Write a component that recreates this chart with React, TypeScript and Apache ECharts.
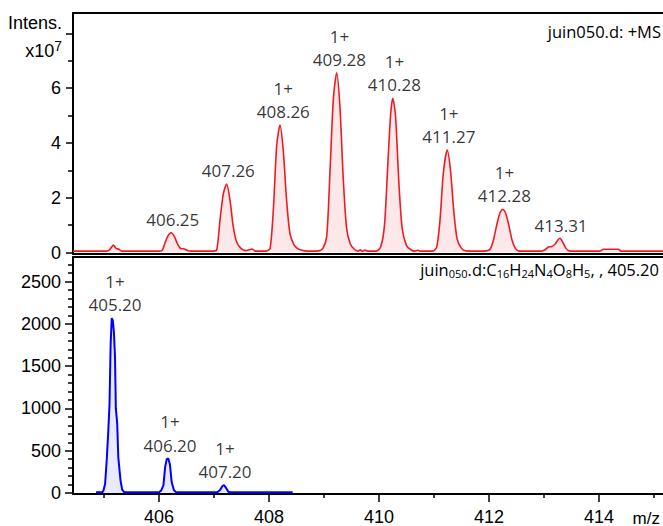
import { useEffect, useRef } from 'react';
import * as echarts from 'echarts';

// ---- data ----
const xMin = 404.436;
const xMax = 415.164;
const xMajorTicks = [406, 408, 410, 412, 414];
const xMinorTicks = [405, 407, 409, 411, 413, 415];

const topYMajorTicks = [0, 2, 4, 6, 8];
const topYLabels = [0, 2, 4, 6];
const topYMinorTicks = [1, 3, 5, 7];
const bottomYMajorTicks = [0, 500, 1000, 1500, 2000, 2500];
const bottomYMinorTicks = [100, 200, 300, 400, 600, 700, 800, 900, 1100, 1200, 1300, 1400, 1600, 1700, 1800, 1900, 2100, 2200, 2300, 2400, 2600, 2700];

// +MS profile, intensity in units of 1e7
const msProfile: [number, number][] = [
  [404.436, 0.05], [405.05, 0.05], [405.1, 0.1], [405.17, 0.27], [405.22, 0.15], [405.27, 0.12], [405.32, 0.05],
  [406.0, 0.05], [406.06, 0.08], [406.1, 0.3], [406.16, 0.6], [406.22, 0.72], [406.28, 0.58], [406.34, 0.3], [406.4, 0.14], [406.46, 0.13], [406.52, 0.07], [406.58, 0.05],
  [406.98, 0.05], [407.05, 0.1], [407.11, 1.2], [407.17, 2.15], [407.23, 2.5], [407.29, 1.92], [407.35, 0.94], [407.41, 0.39], [407.49, 0.15], [407.58, 0.07], [407.64, 0.1], [407.69, 0.13], [407.75, 0.05],
  [407.95, 0.05], [408.02, 0.15], [408.08, 1.6], [408.14, 3.9], [408.2, 4.65], [408.26, 3.7], [408.32, 1.9], [408.38, 0.7], [408.45, 0.3], [408.52, 0.14], [408.6, 0.08], [408.68, 0.05],
  [408.9, 0.06], [408.98, 0.15], [409.05, 0.6], [409.11, 3.0], [409.17, 5.6], [409.23, 6.56], [409.29, 5.3], [409.35, 2.7], [409.41, 0.9], [409.48, 0.3], [409.56, 0.1], [409.62, 0.05], [409.66, 0.1], [409.7, 0.04], [409.74, 0.09], [409.79, 0.05],
  [409.95, 0.05], [410.03, 0.2], [410.1, 1.0], [410.16, 3.2], [410.21, 5.0], [410.25, 5.63], [410.3, 5.0], [410.36, 2.6], [410.42, 0.9], [410.5, 0.25], [410.58, 0.1], [410.65, 0.05], [410.7, 0.08], [410.76, 0.05],
  [410.98, 0.05], [411.05, 0.2], [411.11, 1.2], [411.17, 2.9], [411.24, 3.74], [411.3, 3.0], [411.36, 1.5], [411.42, 0.5], [411.5, 0.15], [411.58, 0.06], [411.8, 0.05],
  [411.95, 0.06], [412.02, 0.12], [412.08, 0.45], [412.14, 1.0], [412.2, 1.45], [412.25, 1.58], [412.3, 1.45], [412.36, 1.0], [412.42, 0.45], [412.48, 0.15], [412.55, 0.05],
  [412.95, 0.05], [413.02, 0.1], [413.08, 0.2], [413.14, 0.22], [413.2, 0.3], [413.25, 0.45], [413.29, 0.52], [413.34, 0.38], [413.4, 0.15], [413.46, 0.06], [413.55, 0.05],
  [414.02, 0.05], [414.08, 0.12], [414.35, 0.12], [414.4, 0.05], [415.164, 0.05],
];

// extracted ion profile (counts)
const eicProfile: [number, number][] = [
  [404.855, 8], [404.97, 8], [404.99, 30], [405.02, 110], [405.05, 400], [405.075, 700], [405.1, 1050], [405.12, 1750], [405.14, 2069], [405.16, 2040], [405.18, 1900], [405.2, 1600], [405.215, 1000], [405.24, 820], [405.26, 420], [405.3, 150], [405.33, 40], [405.37, 8],
  [406.0, 8], [406.04, 30], [406.08, 90], [406.11, 300], [406.14, 400], [406.17, 409], [406.2, 330], [406.23, 130], [406.27, 35], [406.31, 8],
  [407.06, 8], [407.11, 35], [407.15, 80], [407.18, 94], [407.22, 60], [407.26, 15], [407.3, 8], [408.43, 8],
];

const msPeakMz = [406.25, 407.26, 408.26, 409.28, 410.28, 411.27, 412.28, 413.31];
const msPeakIntensity = [0.72, 2.5, 4.65, 6.56, 5.63, 3.74, 1.58, 0.52];
const msPeakCharge = ['', '', '1+', '1+', '1+', '1+', '1+', ''];

const eicPeakMz = [405.2, 406.2, 407.2];
const eicPeakIntensity = [2069, 409, 94];
const eicPeakCharge = ['1+', '1+', '1+'];

// ---- styling ----
const axisFont = "'Liberation Sans', Arial, sans-serif";
const labelFont = "'Open Sans', 'Noto Sans', sans-serif";
const black = '#000';

function peakLabels(mz: number[], inten: number[], charge: string[]) {
  return mz.map((m, i) => ({ value: [m, inten[i]], charge: charge[i], text: m.toFixed(2) }));
}

const labelSeriesBase = {
  type: 'scatter',
  symbolSize: 1,
  itemStyle: { color: 'rgba(0,0,0,0)' },
  silent: true,
  z: 5,
  label: {
    show: true,
    position: 'top',
    distance: 1,
    fontFamily: labelFont,
    fontSize: 17,
    lineHeight: 23.5,
    color: black,
    formatter: (p: any) => (p.data.charge ? `${p.data.charge}\n${p.data.text}` : p.data.text),
  },
};

const lineAxis = { show: true, onZero: false, lineStyle: { color: black, width: 2 } };
const plainNum = (v: number) => String(v);

export default function App() {
  const ref = useRef<HTMLDivElement>(null);
  useEffect(() => {
    const chart = echarts.init(ref.current!, null, { renderer: 'svg' });
    const option: any = {
      animation: false,
      backgroundColor: '#fff',
      grid: [
        { left: 73, top: 13, width: 590, height: 241 },
        { left: 73, top: 257, width: 590, height: 238 },
      ],
      xAxis: [
        { gridIndex: 0, type: 'value', min: xMin, max: xMax, position: 'bottom', axisLine: lineAxis, axisTick: { show: false }, axisLabel: { show: false }, splitLine: { show: false } },
        { gridIndex: 0, type: 'value', min: xMin, max: xMax, position: 'top', axisLine: lineAxis, axisTick: { show: false }, axisLabel: { show: false }, splitLine: { show: false } },
        {
          gridIndex: 1, type: 'value', min: xMin, max: xMax, position: 'bottom', axisLine: lineAxis,
          axisTick: { show: true, length: 8, customValues: xMajorTicks, lineStyle: { color: black, width: 1.5 } },
          axisLabel: { show: true, customValues: xMajorTicks, margin: 14, fontFamily: axisFont, fontSize: 18, color: black, formatter: plainNum },
          splitLine: { show: false },
        },
        {
          gridIndex: 1, type: 'value', min: xMin, max: xMax, position: 'bottom', axisLine: { show: false },
          axisTick: { show: true, length: 5, customValues: xMinorTicks, lineStyle: { color: black, width: 1.5 } },
          axisLabel: { show: false }, splitLine: { show: false },
        },
        { gridIndex: 1, type: 'value', min: xMin, max: xMax, position: 'top', axisLine: lineAxis, axisTick: { show: false }, axisLabel: { show: false }, splitLine: { show: false } },
      ],
      yAxis: [
        {
          gridIndex: 0, type: 'value', min: -0.0547, max: 8.741, position: 'left', axisLine: lineAxis,
          axisTick: { show: true, length: 7, customValues: topYMajorTicks, lineStyle: { color: black, width: 1.5 } },
          axisLabel: { show: true, customValues: topYLabels, margin: 12, fontFamily: axisFont, fontSize: 18, color: black, formatter: plainNum },
          splitLine: { show: false },
        },
        {
          gridIndex: 0, type: 'value', min: -0.0547, max: 8.741, position: 'left', axisLine: { show: false },
          axisTick: { show: true, length: 5, customValues: topYMinorTicks, lineStyle: { color: black, width: 1.5 } },
          axisLabel: { show: false }, splitLine: { show: false },
        },
        {
          gridIndex: 1, type: 'value', min: -11.8, max: 2791, position: 'left', axisLine: lineAxis,
          axisTick: { show: true, length: 8, customValues: bottomYMajorTicks, lineStyle: { color: black, width: 1.5 } },
          axisLabel: { show: true, customValues: bottomYMajorTicks, margin: 12, fontFamily: axisFont, fontSize: 18, color: black, formatter: plainNum },
          splitLine: { show: false },
        },
        {
          gridIndex: 1, type: 'value', min: -11.8, max: 2791, position: 'left', axisLine: { show: false },
          axisTick: { show: true, length: 5, customValues: bottomYMinorTicks, lineStyle: { color: black, width: 1.5 } },
          axisLabel: { show: false }, splitLine: { show: false },
        },
      ],
      series: [
        {
          type: 'line', xAxisIndex: 0, yAxisIndex: 0, data: msProfile, symbol: 'none', smooth: 0.25,
          lineStyle: { color: '#ee1b22', width: 1.6 }, areaStyle: { color: 'rgba(240,40,50,0.15)' }, z: 3,
        },
        {
          type: 'line', xAxisIndex: 2, yAxisIndex: 2, data: eicProfile, symbol: 'none',
          lineStyle: { color: '#0000ff', width: 2 }, areaStyle: { color: 'rgba(70,70,255,0.17)' }, z: 3,
        },
        { ...labelSeriesBase, xAxisIndex: 0, yAxisIndex: 0, data: peakLabels(msPeakMz, msPeakIntensity, msPeakCharge) },
        { ...labelSeriesBase, xAxisIndex: 2, yAxisIndex: 2, data: peakLabels(eicPeakMz, eicPeakIntensity, eicPeakCharge) },
      ],
      graphic: [
        { type: 'text', x: 62, y: 23, style: { text: 'Intens.', align: 'right', verticalAlign: 'middle', fontFamily: axisFont, fontSize: 18, fill: black } },
        {
          type: 'text', x: 62, y: 51,
          style: {
            text: '{b|x10}{sup|7}', align: 'right', verticalAlign: 'middle',
            rich: {
              b: { fontFamily: axisFont, fontSize: 18, lineHeight: 24, fill: black },
              sup: { fontFamily: axisFont, fontSize: 14, lineHeight: 12, verticalAlign: 'top', fill: black },
            },
          },
        },
        { type: 'text', x: 661, y: 31, style: { text: 'juin050.d: +MS', align: 'right', verticalAlign: 'middle', fontFamily: labelFont, fontSize: 16.5, fill: black } },
        {
          type: 'text', x: 659, y: 269,
          style: {
            text: '{n|juin}{s|050}{n|.d:C}{s|16}{n|H}{s|24}{n|N}{s|4}{n|O}{s|8}{n|H}{s|5}{n|, , 405.20}',
            align: 'right', verticalAlign: 'middle',
            rich: {
              n: { fontFamily: labelFont, fontSize: 16.5, lineHeight: 20, fill: black },
              s: { fontFamily: labelFont, fontSize: 11, lineHeight: 10, verticalAlign: 'bottom', fill: black },
            },
          },
        },
        { type: 'text', x: 660, y: 518, style: { text: 'm/z', align: 'right', verticalAlign: 'middle', fontFamily: axisFont, fontSize: 17, fill: black } },
      ],
    };
    chart.setOption(option);
    return () => chart.dispose();
  }, []);
  return <div ref={ref} style={{ position: 'fixed', left: 0, top: 0, width: 663, height: 526, background: '#fff' }} />;
}
